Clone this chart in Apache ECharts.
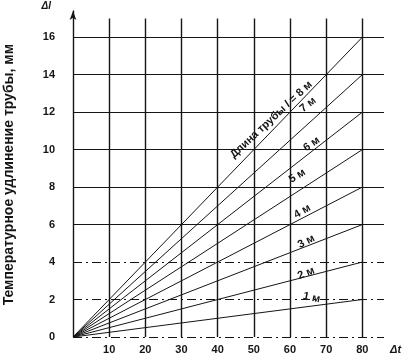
<!DOCTYPE html>
<html><head><meta charset="utf-8">
<script src="https://cdn.jsdelivr.net/npm/echarts@6/dist/echarts.min.js"></script>
<style>html,body{margin:0;padding:0;background:#fff}#c{width:408px;height:358px}</style>
</head><body><div id="c"></div>
<script>
// ---- data ----
const xTicks = [0, 10, 20, 30, 40, 50, 60, 70, 80];
const yTicks = [0, 2, 4, 6, 8, 10, 12, 14, 16];
const dashedY = [0, 2, 4];
const pipeLengths = [1, 2, 3, 4, 5, 6, 7, 8];
const endT = 80;
const endDl = [2, 4, 6, 8, 10, 12, 14, 16];
const labelTexts = ['1 м', '2 м', '3 м', '4 м', '5 м', '6 м', '7 м', '{n|Длина трубы }{i|l}{n| = 8 м}'];
const labelX = [66, 64.5, 64.5, 63.4, 62, 66, 65, 54.8];
const labelY = [2.1, 3.4, 5.1, 6.7, 8.6, 10.3, 12.4, 11.6];
const labelRot = [-12, 22, 28, 30, 32, 35, 38, 43];
const xMax = 86, yMax = 17.4, vTop = 17;

const ink = '#151515';
const fontFam = '"Liberation Sans", Arial, sans-serif';

const gridLines = [];
xTicks.forEach(function (x) {
  if (x === 0) return;
  gridLines.push([{coord: [x, 0]}, {coord: [x, vTop], lineStyle: {width: 1.4, type: 'solid', color: ink}}]);
});
yTicks.forEach(function (y) {
  const dashed = dashedY.indexOf(y) >= 0;
  gridLines.push([{coord: [0, y]}, {coord: [xMax, y], lineStyle: {width: 1.1, type: dashed ? [9, 4, 2, 4] : 'solid', color: ink}}]);
});

const series = [{
  type: 'line', data: [[0, 0]], symbol: 'none', silent: true, lineStyle: {opacity: 0},
  markLine: {silent: true, symbol: ['none', 'none'], label: {show: false},
    lineStyle: {color: ink, width: 1.1, type: 'solid'}, data: gridLines}
}];
pipeLengths.forEach(function (l, i) {
  series.push({
    type: 'line', name: l + ' м', symbol: 'none', silent: true,
    data: [[0, 0], [endT, endDl[i]]],
    lineStyle: {color: ink, width: 1},
    markPoint: {
      symbol: 'circle', symbolSize: 0, silent: true,
      data: [{coord: [labelX[i], labelY[i]]}],
      label: {show: true, position: 'inside', formatter: labelTexts[i], rotate: labelRot[i],
        color: ink, fontSize: 11, fontFamily: fontFam, fontWeight: 'bold',
        rich: {n: {fontSize: 11, fontWeight: 'bold', fontFamily: fontFam, color: ink},
               i: {fontSize: 11, fontWeight: 'bold', fontStyle: 'italic', fontFamily: fontFam, color: ink}}}
    }
  });
});

const chart = echarts.init(document.getElementById('c'), null, {renderer: 'canvas'});
chart.setOption({
  animation: false,
  grid: {left: 73, right: 24, top: 11, bottom: 21, containLabel: false},
  xAxis: {
    type: 'value', min: 0, max: xMax, interval: 10,
    axisLine: {show: false}, axisTick: {show: false}, splitLine: {show: false},
    axisLabel: {margin: 7, fontSize: 11, fontWeight: 'bold', fontFamily: fontFam, color: ink,
      formatter: function (v) { return (v > 0 && v <= 80 && v % 10 === 0) ? String(v) : ''; }},
    name: 'Δt', nameLocation: 'end', nameGap: 6,
    nameTextStyle: {fontSize: 11, fontStyle: 'italic', fontWeight: 'bold', fontFamily: fontFam, color: ink, verticalAlign: 'top', padding: [7, 0, 0, 0]}
  },
  yAxis: {
    type: 'value', min: 0, max: yMax, interval: 2,
    axisLine: {show: true, lineStyle: {color: ink, width: 1.4}, symbol: ['none', 'arrow'], symbolSize: [5, 9]},
    axisTick: {show: false}, splitLine: {show: false},
    axisLabel: {margin: 18, fontSize: 11, fontWeight: 'bold', fontFamily: fontFam, color: ink,
      formatter: function (v) { return (v % 2 === 0 && v <= 16) ? String(v) : ''; }},
    name: 'Δl', nameLocation: 'end', nameGap: 0,
    nameTextStyle: {fontSize: 10, fontStyle: 'italic', fontWeight: 'bold', fontFamily: fontFam, color: ink, align: 'right', padding: [0, 22, 0, 0]}
  },
  graphic: [{
    type: 'text', left: 2, top: 44, rotation: Math.PI / 2,
    style: {text: 'Температурное удлинение трубы, мм', fontSize: 14, fontWeight: 'bold', fontFamily: fontFam, fill: ink}
  }],
  series: series
});
</script></body></html>
